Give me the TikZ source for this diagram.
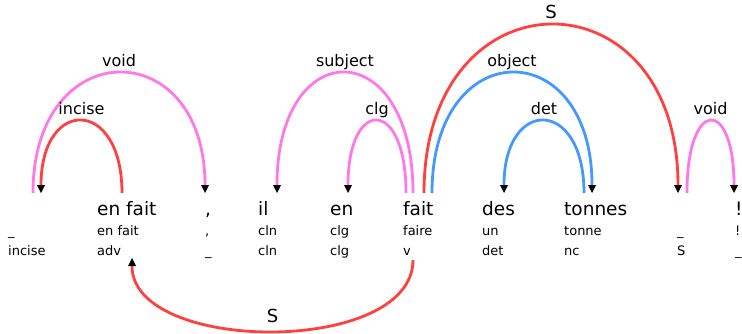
\documentclass[tikz,border=0pt]{standalone}
\usepackage{fontspec}
\setmainfont{DejaVu Sans}
\usepackage{tikz}
\usetikzlibrary{arrows.meta}
\definecolor{ArcPink}{HTML}{FF78E8}
\definecolor{ArcRed}{HTML}{FF4040}
\definecolor{ArcBlue}{HTML}{4499FF}

\begin{document}
\begin{tikzpicture}[x=1pt, y=1pt,
  word/.style={anchor=base west, inner sep=0pt, font=\fontsize{18.5}{18.5}\selectfont},
  small/.style={anchor=base west, inner sep=0pt, font=\fontsize{13}{13}\selectfont},
  rel/.style={pos=0.5, anchor=base, inner sep=0pt, yshift=7pt, font=\fontsize{16}{16}\selectfont},
  bigrel/.style={rel, font=\fontsize{18}{18}\selectfont},
  arc/.style={line width=2.8pt, -{Triangle[width=8pt, length=8pt, line width=0pt, color=black]}}]
\useasboundingbox (0,0) rectangle (742,333);

\node[small] (lem0) at (8,97.5) {\_};
\node[small] (pos0) at (8,77.5) {incise};

\node[word] (w1) at (97,118) {en fait};
\node[small] (lem1) at (97,97.5) {en fait};
\node[small] (pos1) at (97,77.5) {adv};

\node[word] (w2) at (205,118) {,};
\node[small] (lem2) at (205,97.5) {,};
\node[small] (pos2) at (205,77.5) {\_};

\node[word] (w3) at (258,118) {il};
\node[small] (lem3) at (258,97.5) {cln};
\node[small] (pos3) at (258,77.5) {cln};

\node[word] (w4) at (330,118) {en};
\node[small] (lem4) at (330,97.5) {clg};
\node[small] (pos4) at (330,77.5) {clg};

\node[word] (w5) at (403,118) {fait};
\node[small] (lem5) at (403,97.5) {faire};
\node[small] (pos5) at (403,77.5) {v};

\node[word] (w6) at (482,118) {des};
\node[small] (lem6) at (482,97.5) {un};
\node[small] (pos6) at (482,77.5) {det};

\node[word] (w7) at (564,118) {tonnes};
\node[small] (lem7) at (564,97.5) {tonne};
\node[small] (pos7) at (564,77.5) {nc};

\node[small] (lem8) at (677,97.5) {\_};
\node[small] (pos8) at (677,77.5) {S};

\node[word] (w9) at (735,118) {!};
\node[small] (lem9) at (735,97.5) {!};
\node[small] (pos9) at (735,77.5) {\_};

\coordinate (t0o) at (33,140);
\coordinate (t0i) at (41,140);
\coordinate (t1) at (122,140);
\coordinate (t2) at (205,140);
\coordinate (t3) at (277,140);
\coordinate (t4) at (348,140);
\coordinate (t5a) at (406,140);
\coordinate (t5b) at (413,140);
\coordinate (t5c) at (424,140);
\coordinate (t5d) at (432,140);
\coordinate (t6) at (504,140);
\coordinate (t7a) at (584,140);
\coordinate (t7b) at (592,140);
\coordinate (t8a) at (678,140);
\coordinate (t8b) at (687,140);
\coordinate (t9) at (734,140);
\coordinate (s5) at (413,73);
\coordinate (s1) at (132,75);

\draw[arc, ArcPink] (t0o) .. controls +(0,160) and +(0,160) .. (t2) node[rel, black] {void};
\draw[arc, ArcRed] (t1) .. controls +(0,96) and +(0,96) .. (t0i) node[rel, black] {incise};
\draw[arc, ArcPink] (t5b) .. controls +(0,160) and +(0,160) .. (t3) node[rel, black] {subject};
\draw[arc, ArcPink] (t5a) .. controls +(0,96) and +(0,96) .. (t4) node[rel, black] {clg};
\draw[arc, ArcRed] (t5c) .. controls +(0,224) and +(0,224) .. (t8a) node[bigrel, black] {S};
\draw[arc, ArcBlue] (t5d) .. controls +(0,160) and +(0,160) .. (t7b) node[rel, black] {object};
\draw[arc, ArcBlue] (t7a) .. controls +(0,96) and +(0,96) .. (t6) node[rel, black] {det};
\draw[arc, ArcPink] (t8b) .. controls +(0,96) and +(0,96) .. (t9) node[rel, black] {void};
\draw[arc, ArcRed] (s5) .. controls +(0,-96) and +(0,-96) .. (s1) node[bigrel, black, yshift=2pt] {S};

\end{tikzpicture}
\end{document}
